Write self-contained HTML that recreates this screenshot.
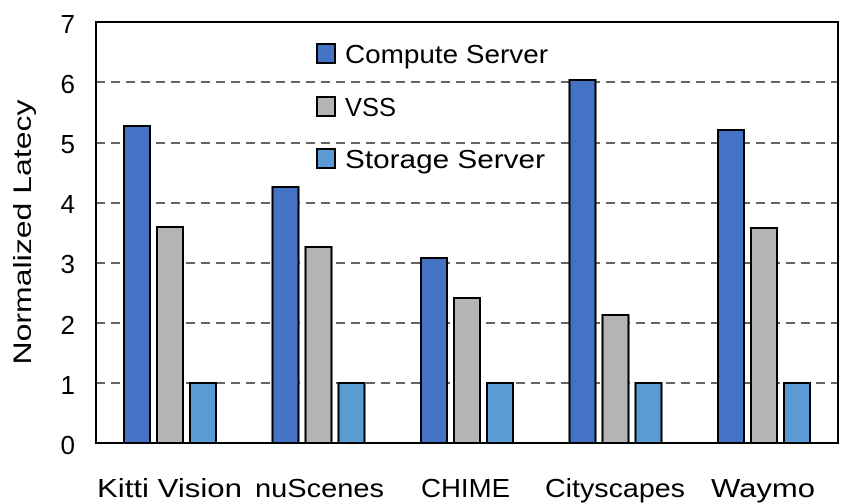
<!DOCTYPE html>
<html><head><meta charset="utf-8"><style>body{margin:0;background:#fff}svg{display:block}</style></head><body>
<svg width="843" height="504" xmlns="http://www.w3.org/2000/svg" font-family="Liberation Sans, sans-serif" fill="#000">
<rect width="843" height="504" fill="#fff"/>
<g stroke="#666" stroke-width="2" stroke-dasharray="9,6">
<line x1="96" y1="383" x2="838" y2="383"/>
<line x1="96" y1="323" x2="838" y2="323"/>
<line x1="96" y1="263" x2="838" y2="263"/>
<line x1="96" y1="203" x2="838" y2="203"/>
<line x1="96" y1="143" x2="838" y2="143"/>
<line x1="96" y1="82" x2="838" y2="82"/>
</g>
<rect x="96" y="22" width="742" height="421" fill="none" stroke="#000" stroke-width="2"/>
<g stroke="#000" stroke-width="2">
<rect x="124" y="126" width="26" height="317" fill="#4472C4"/>
<rect x="157" y="227" width="26" height="216" fill="#B4B4B4"/>
<rect x="190" y="383" width="26" height="60" fill="#5B9BD5"/>
<rect x="272.5" y="187" width="26" height="256" fill="#4472C4"/>
<rect x="305.5" y="247" width="26" height="196" fill="#B4B4B4"/>
<rect x="338.5" y="383" width="26" height="60" fill="#5B9BD5"/>
<rect x="421" y="258" width="26" height="185" fill="#4472C4"/>
<rect x="454" y="298" width="26" height="145" fill="#B4B4B4"/>
<rect x="487" y="383" width="26" height="60" fill="#5B9BD5"/>
<rect x="569.5" y="80" width="26" height="363" fill="#4472C4"/>
<rect x="602.5" y="315" width="26" height="128" fill="#B4B4B4"/>
<rect x="635.5" y="383" width="26" height="60" fill="#5B9BD5"/>
<rect x="718" y="130" width="26" height="313" fill="#4472C4"/>
<rect x="751" y="228" width="26" height="215" fill="#B4B4B4"/>
<rect x="784" y="383" width="26" height="60" fill="#5B9BD5"/>
<rect x="317" y="44" width="18" height="19" fill="#4472C4"/>
<rect x="317" y="97" width="18" height="19" fill="#B4B4B4"/>
<rect x="317" y="149" width="18" height="19" fill="#5B9BD5"/>
</g>
<g font-size="26">
<text x="345" y="63" textLength="203" lengthAdjust="spacingAndGlyphs">Compute Server</text>
<text x="345" y="116" textLength="51" lengthAdjust="spacingAndGlyphs">VSS</text>
<text x="345" y="168" textLength="200" lengthAdjust="spacingAndGlyphs">Storage Server</text>
</g>
<g font-size="26" text-anchor="end">
<text x="75" y="33">7</text>
<text x="75" y="93">6</text>
<text x="75" y="153">5</text>
<text x="75" y="213">4</text>
<text x="75" y="273">3</text>
<text x="75" y="334">2</text>
<text x="75" y="394">1</text>
<text x="75" y="454">0</text>
</g>
<text transform="translate(31,232) rotate(-90)" font-size="25" text-anchor="middle" textLength="265" lengthAdjust="spacingAndGlyphs">Normalized Latecy</text>
<g font-size="26">
<text x="97" y="497" textLength="145" lengthAdjust="spacingAndGlyphs">Kitti Vision</text>
<text x="255" y="497" textLength="129" lengthAdjust="spacingAndGlyphs">nuScenes</text>
<text x="421" y="497" textLength="89" lengthAdjust="spacingAndGlyphs">CHIME</text>
<text x="545" y="497" textLength="140" lengthAdjust="spacingAndGlyphs">Cityscapes</text>
<text x="711" y="497" textLength="104" lengthAdjust="spacingAndGlyphs">Waymo</text>
</g>
</svg>
</body></html>
